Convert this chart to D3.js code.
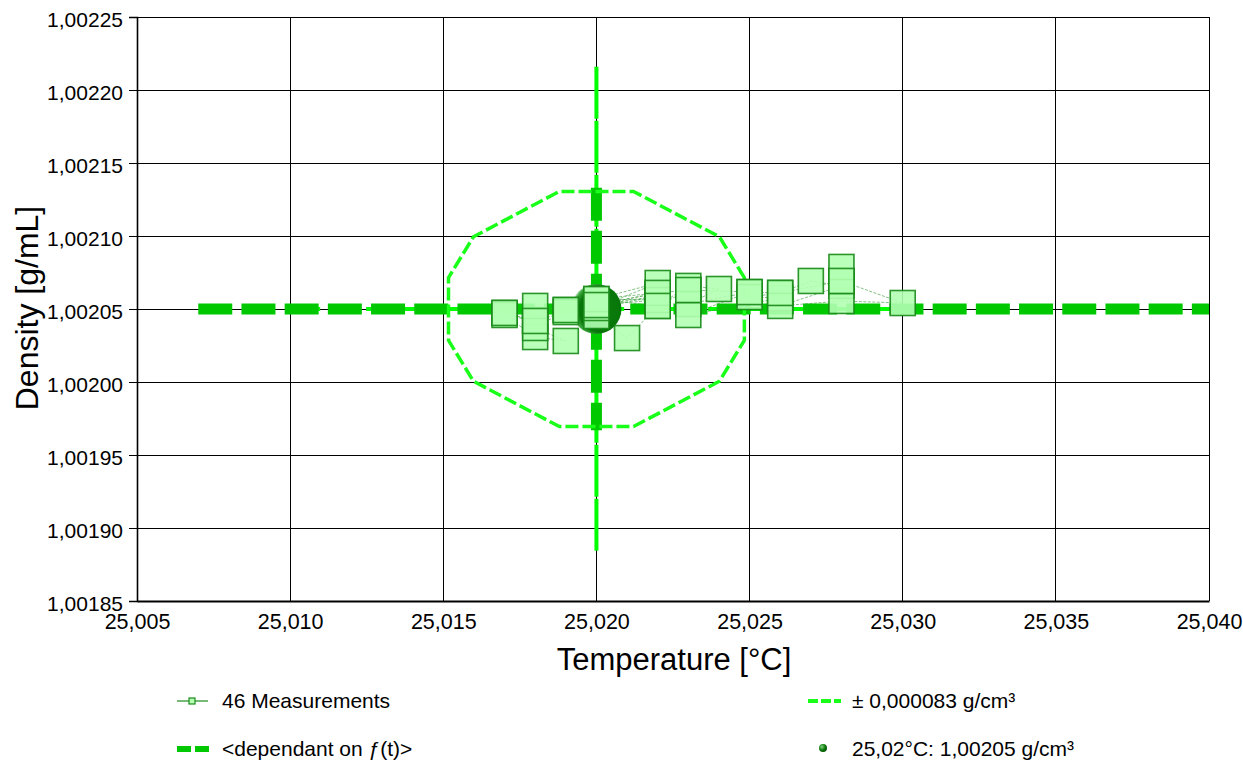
<!DOCTYPE html>
<html><head><meta charset="utf-8">
<script src="https://cdn.jsdelivr.net/npm/d3@7"></script>
<style>
html,body{margin:0;padding:0;background:#fff;}
svg text{font-family:"Liberation Sans",Arial,sans-serif;fill:#000;}
</style></head>
<body><svg id="c" width="1243" height="766"></svg>
<script>
// ---- data ----
const tempTicks = [25.005,25.010,25.015,25.020,25.025,25.030,25.035,25.040];
const densTicks = [1.00185,1.00190,1.00195,1.00200,1.00205,1.00210,1.00215,1.00220,1.00225];
const measTemp = [25.017,25.018,25.017,25.018,25.019,25.018,25.019,25.018,25.019,25.018,25.017,25.019,
  25.020,25.021,25.022,25.020,25.022,25.020,25.022,25.020,25.022,25.020,25.022,25.020,25.022,25.023,
  25.022,25.023,25.024,25.023,25.025,25.023,25.026,25.025,25.026,25.027,25.028,25.026,25.028,25.030,
  25.028,25.028,25.028,25.026,25.025,25.023];
const measDens = [1.0020473,1.0020418,1.0020459,1.0020308,1.0020281,1.0020370,1.0020493,1.0020521,1.0020479,1.0020418,1.0020473,1.0020493,
  1.0020452,1.0020301,1.0020521,1.0020568,1.0020610,1.0020527,1.0020589,1.0020507,1.0020678,1.0020568,1.0020562,1.0020527,1.0020610,1.0020630,
  1.0020521,1.0020658,1.0020637,1.0020534,1.0020616,1.0020459,1.0020575,1.0020582,1.0020610,1.0020692,1.0020658,1.0020521,1.0020555,1.0020541,
  1.0020692,1.0020788,1.0020692,1.0020610,1.0020616,1.0020630];
const resultTemp = 25.020;
const resultDens = 1.00205;
const uncDens = 0.000083;
const uncTemp = 0.005;
const fLineTemp = [25.007, 25.040];
const crossTemp = [25.010, 25.030];
const ellipseAngles = [15,36.6,76,104,143.4,165,195,216.6,256,284,323.4,345];
const legendLabels = ["46 Measurements","<dependant on \u0192(t)>","\u00b1 0,000083 g/cm\u00b3","25,02\u00b0C: 1,00205 g/cm\u00b3"];

// ---- chart ----
const svg = d3.select("#c");
const L=137,R=1209,T=17,B=601;
const x = d3.scaleLinear().domain([25.005,25.040]).range([L,R]);
const y = d3.scaleLinear().domain([1.00185,1.00225]).range([B,T]);
const fmt = (f)=> (v)=> d3.format(f)(v).replace(".",",");

const defs = svg.append("defs");
const rg = defs.append("radialGradient").attr("id","ball").attr("cx","0.6").attr("cy","0.52").attr("r","0.62").attr("fx","0.62").attr("fy","0.5");
rg.append("stop").attr("offset","0%").attr("stop-color","#0b7f0b");
rg.append("stop").attr("offset","72%").attr("stop-color","#07750a");
rg.append("stop").attr("offset","88%").attr("stop-color","#3ea83e");
rg.append("stop").attr("offset","100%").attr("stop-color","#ffffff");
const rg2 = defs.append("radialGradient").attr("id","ball2").attr("cx","0.35").attr("cy","0.35").attr("r","0.7");
rg2.append("stop").attr("offset","0%").attr("stop-color","#7fd07f");
rg2.append("stop").attr("offset","60%").attr("stop-color","#0a7a0a");
rg2.append("stop").attr("offset","100%").attr("stop-color","#045004");

// grid
const g = svg.append("g");
g.selectAll("line.vx").data(tempTicks).enter().append("line")
  .attr("x1",d=>x(d)).attr("x2",d=>x(d)).attr("y1",T).attr("y2",B)
  .attr("stroke","#000").attr("stroke-width",1).attr("shape-rendering","crispEdges");
g.selectAll("line.hy").data(densTicks).enter().append("line")
  .attr("x1",L).attr("x2",R).attr("y1",d=>y(d)).attr("y2",d=>y(d))
  .attr("stroke","#000").attr("stroke-width",1).attr("shape-rendering","crispEdges");

// axes
const ay = svg.append("g").attr("transform",`translate(${L},0)`)
  .call(d3.axisLeft(y).tickValues(densTicks).tickSize(8).tickPadding(6).tickFormat(fmt(".5f")));
ay.select(".domain").attr("stroke","#000").attr("stroke-width",1.6);
ay.selectAll("text").attr("font-size",21).attr("dy","0.43em").style("font-family","'Liberation Sans',Arial,sans-serif");
const ax = svg.append("g").attr("transform",`translate(0,${B})`)
  .call(d3.axisBottom(x).tickValues(tempTicks).tickSize(0).tickPadding(13).tickFormat(fmt(".3f")));
ax.select(".domain").attr("stroke","#000").attr("stroke-width",2);
ax.selectAll("text").attr("font-size",21.5).style("font-family","'Liberation Sans',Arial,sans-serif");

svg.append("text").attr("x",674).attr("y",670).attr("text-anchor","middle").attr("font-size",31).text("Temperature [°C]");
svg.append("text").attr("transform",`translate(38,${y(resultDens)-1}) rotate(-90)`).attr("text-anchor","middle").attr("font-size",32).text("Density [g/mL]");

// bright thin lines (±2u)
svg.append("line").attr("x1",x(crossTemp[0])).attr("x2",x(crossTemp[1]))
  .attr("y1",y(resultDens)).attr("y2",y(resultDens))
  .attr("stroke","#00ff00").attr("stroke-width",4).attr("stroke-dasharray","30,8");
svg.append("line").attr("x1",x(resultTemp)).attr("x2",x(resultTemp))
  .attr("y1",y(resultDens+2*uncDens)).attr("y2",y(resultDens-2*uncDens))
  .attr("stroke","#00ff00").attr("stroke-width",4).attr("stroke-dasharray","52,2");

// thick f(t) line
svg.append("line").attr("x1",x(fLineTemp[0])).attr("x2",x(fLineTemp[1]))
  .attr("y1",y(resultDens)).attr("y2",y(resultDens))
  .attr("stroke","#00c800").attr("stroke-width",11).attr("stroke-dasharray","34,9.2");
// thick vertical (±u)
svg.append("line").attr("x1",x(resultTemp)).attr("x2",x(resultTemp))
  .attr("y1",y(resultDens+uncDens)).attr("y2",y(resultDens-uncDens))
  .attr("stroke","#00c800").attr("stroke-width",11).attr("stroke-dasharray","33,10");

// uncertainty ellipse
const ell = ellipseAngles.map(a=>[x(resultTemp+uncTemp*Math.cos(a*Math.PI/180)), y(resultDens+uncDens*Math.sin(a*Math.PI/180))]);
svg.append("path").attr("d",d3.line().curve(d3.curveLinearClosed)(ell))
  .attr("fill","none").attr("stroke","#1aff1a").attr("stroke-width",3.5).attr("stroke-dasharray","13,4");

// measurement connecting line
const pts = measTemp.map((t,i)=>[x(t),y(measDens[i])]);
svg.append("path").attr("d",d3.line()(pts)).attr("fill","none")
  .attr("stroke","#3f9f3f").attr("stroke-width",0.8).attr("stroke-opacity",0.8).attr("stroke-dasharray","3,1.5");

// result ball
svg.append("circle").attr("cx",x(resultTemp)).attr("cy",y(resultDens)).attr("r",25)
  .attr("fill","url(#ball)");

// squares
const S=25;
svg.append("g").selectAll("rect").data(pts).enter().append("rect")
  .attr("x",d=>d[0]-S/2).attr("y",d=>d[1]-S/2).attr("width",S).attr("height",S)
  .attr("fill","#b3ffb3").attr("fill-opacity",0.9)
  .attr("stroke","#178a17").attr("stroke-width",1.6).attr("stroke-opacity",0.9);

// legend
const lg = svg.append("g");
lg.append("line").attr("x1",177).attr("x2",208).attr("y1",701).attr("y2",701).attr("stroke","#1a8c1a").attr("stroke-width",1.2);
lg.append("rect").attr("x",189).attr("y",698).attr("width",6).attr("height",6).attr("fill","#b5ffb5").attr("stroke","#1a8c1a").attr("stroke-width",1.2);
lg.append("text").attr("x",222).attr("y",708).attr("font-size",21).text(legendLabels[0]);
lg.append("line").attr("x1",177).attr("x2",209).attr("y1",749).attr("y2",749).attr("stroke","#00c800").attr("stroke-width",6).attr("stroke-dasharray","14,4");
lg.append("text").attr("x",222).attr("y",756).attr("font-size",21).text(legendLabels[1]);
lg.append("line").attr("x1",808).attr("x2",841).attr("y1",701).attr("y2",701).attr("stroke","#1aff1a").attr("stroke-width",4).attr("stroke-dasharray","10,3");
lg.append("text").attr("x",852).attr("y",708).attr("font-size",21).text(legendLabels[2]);
lg.append("circle").attr("cx",823).attr("cy",748).attr("r",4).attr("fill","url(#ball2)");
lg.append("text").attr("x",852).attr("y",756).attr("font-size",21).text(legendLabels[3]);
</script></body></html>
